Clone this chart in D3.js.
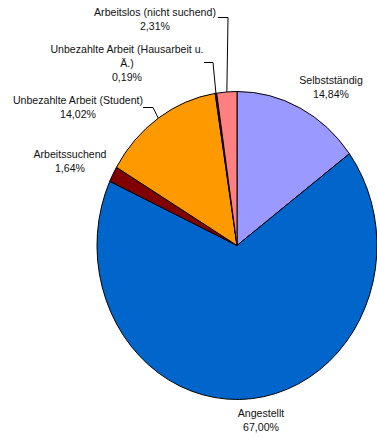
<!DOCTYPE html>
<html>
<head>
<meta charset="utf-8">
<script src="https://cdn.jsdelivr.net/npm/d3@7/dist/d3.min.js"></script>
<style>
  html, body { margin: 0; padding: 0; background: #fff; }
  svg { display: block; }
  text { font-family: "Liberation Sans", Arial, sans-serif; font-size: 10.6px; fill: #111; }
</style>
</head>
<body>
<svg id="chart" width="377" height="438"></svg>
<script>
// Erwerbsstatus – Anteile in Prozent (im Uhrzeigersinn ab 12 Uhr)
const categories = [
  "Selbstständig",
  "Angestellt",
  "Arbeitssuchend",
  "Unbezahlte Arbeit (Student)",
  "Unbezahlte Arbeit (Hausarbeit u. Ä.)",
  "Arbeitslos (nicht suchend)"
];
const values = [14.84, 67.00, 1.64, 14.02, 0.19, 2.31];
const colors = ["#9999FF", "#0066CC", "#800000", "#FF9900", "#660066", "#FF8080"];
// Beschriftungszeilen (Kategorie umbrochen wie im Diagramm)
const labelLines = [
  ["Selbstständig"],
  ["Angestellt"],
  ["Arbeitssuchend"],
  ["Unbezahlte Arbeit (Student)"],
  ["Unbezahlte Arbeit (Hausarbeit u.", "Ä.)"],
  ["Arbeitslos (nicht suchend)"]
];

// Layout: Position der Beschriftungen und Knickpunkte der Führungslinien
const layout = [
  { x: 331, y: 83.5, leader: null },
  { x: 261, y: 417, leader: null },
  { x: 70, y: 157.5, leader: null },
  { x: 78, y: 103.5, leader: [[143, 107.5], [153, 107.5]] },
  { x: 127, y: 52.5, leader: [[204, 62.5], [213, 62.5]] },
  { x: 155, y: 15.5, leader: [[218, 17.5], [228, 17.5]] }
];
const lineH = 14.3;

const cx = 237, cy = 245.5, rx = 140, ry = 154;
const fmt = v => d3.format(".2f")(v).replace(".", ",") + "%";

const svg = d3.select("#chart");
const data = categories.map((c, i) => ({ name: c, value: values[i], color: colors[i], lines: labelLines[i], pos: layout[i] }));

const pie = d3.pie().sort(null).value(d => d.value);
const arcs = pie(data);
const arc = d3.arc().innerRadius(0).outerRadius(1);

// Kreis auf Ellipse gestreckt
const g = svg.append("g").attr("transform", `translate(${cx},${cy}) scale(${rx},${ry})`);
g.selectAll("path")
  .data(arcs)
  .join("path")
  .attr("d", arc)
  .attr("fill", d => d.data.color)
  .attr("stroke", "#000")
  .attr("stroke-width", 1)
  .attr("stroke-linejoin", "round")
  .attr("vector-effect", "non-scaling-stroke");

// Führungslinien zum Rand des jeweiligen Segments
const edgePoint = d => {
  const a = (d.startAngle + d.endAngle) / 2;
  return [cx + rx * Math.sin(a), cy - ry * Math.cos(a)];
};
arcs.forEach(d => {
  if (!d.data.pos.leader) return;
  const pts = d.data.pos.leader.concat([edgePoint(d)]);
  svg.append("path")
    .attr("d", d3.line()(pts))
    .attr("fill", "none")
    .attr("stroke", "#000")
    .attr("stroke-width", 1);
});

// Beschriftungen
const labels = svg.append("g").selectAll("text")
  .data(data)
  .join("text")
  .attr("text-anchor", "middle")
  .attr("x", d => d.pos.x)
  .attr("y", d => d.pos.y);
labels.each(function(d) {
  const t = d3.select(this);
  d.lines.concat([fmt(d.value)]).forEach((s, i) => {
    t.append("tspan").attr("x", d.pos.x).attr("y", d.pos.y + i * lineH).text(s);
  });
});
</script>
</body>
</html>
